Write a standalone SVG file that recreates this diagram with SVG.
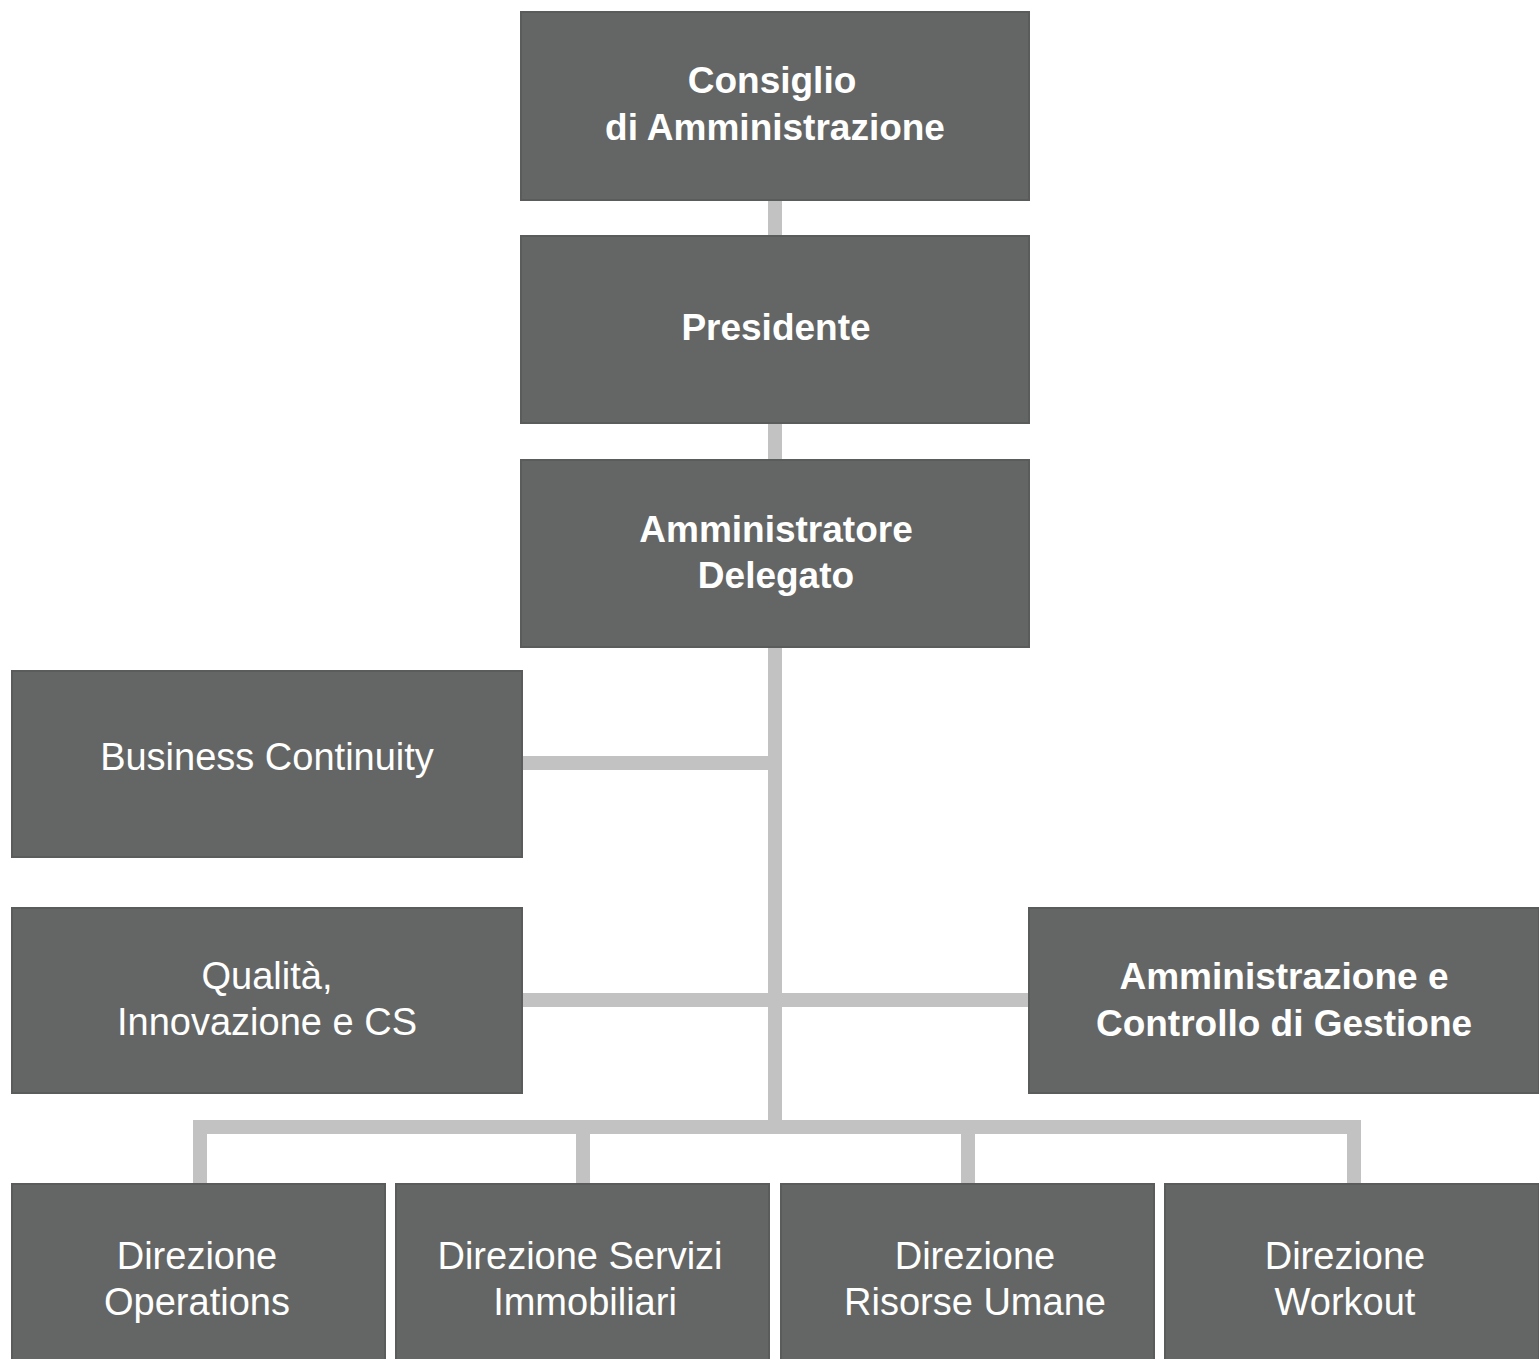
<svg xmlns="http://www.w3.org/2000/svg" width="1539" height="1359" viewBox="0 0 1539 1359">
<style>
.box{fill:#646665;stroke:#5a5c5b;stroke-width:2}
.t{font-family:"Liberation Sans",Arial,sans-serif;font-size:38px;fill:#ffffff;text-anchor:middle}
.b{font-weight:bold;font-size:37px}
.c{stroke:#c2c2c2;stroke-width:14;fill:none}
</style>
<rect width="1539" height="1359" fill="#ffffff"/>
<g id="connectors">
<line class="c" x1="775" y1="200" x2="775" y2="235"/>
<line class="c" x1="775" y1="423" x2="775" y2="459"/>
<line class="c" x1="775" y1="647" x2="775" y2="1127"/>
<line class="c" x1="523" y1="763" x2="775" y2="763"/>
<line class="c" x1="523" y1="1000" x2="1028" y2="1000"/>
<polyline class="c" points="200,1183 200,1127 1354,1127 1354,1183"/>
<line class="c" x1="583" y1="1127" x2="583" y2="1183"/>
<line class="c" x1="968" y1="1127" x2="968" y2="1183"/>
</g>
<g id="consiglio">
<rect class="box" x="521" y="12" width="508" height="188"/>
<text class="t b" x="772" y="93">Consiglio</text>
<text class="t b" x="775" y="140">di Amministrazione</text>
</g>
<g id="presidente">
<rect class="box" x="521" y="236" width="508" height="187"/>
<text class="t b" x="776" y="340">Presidente</text>
</g>
<g id="amministratore-delegato">
<rect class="box" x="521" y="460" width="508" height="187"/>
<text class="t b" x="776" y="542">Amministratore</text>
<text class="t b" x="776" y="588">Delegato</text>
</g>
<g id="business-continuity">
<rect class="box" x="12" y="671" width="510" height="186"/>
<text class="t" x="267" y="770">Business Continuity</text>
</g>
<g id="qualita">
<rect class="box" x="12" y="908" width="510" height="185"/>
<text class="t" x="267" y="989">Qualità,</text>
<text class="t" x="267" y="1035">Innovazione e CS</text>
</g>
<g id="amministrazione-controllo">
<rect class="box" x="1029" y="908" width="510" height="185"/>
<text class="t b" x="1284" y="989">Amministrazione e</text>
<text class="t b" x="1284" y="1036">Controllo di Gestione</text>
</g>
<g id="direzione-operations">
<rect class="box" x="12" y="1184" width="373" height="176"/>
<text class="t" x="197" y="1269">Direzione</text>
<text class="t" x="197" y="1315">Operations</text>
</g>
<g id="direzione-servizi-immobiliari">
<rect class="box" x="396" y="1184" width="373" height="176"/>
<text class="t" x="580" y="1269">Direzione Servizi</text>
<text class="t" x="585" y="1315">Immobiliari</text>
</g>
<g id="direzione-risorse-umane">
<rect class="box" x="781" y="1184" width="373" height="176"/>
<text class="t" x="975" y="1269">Direzione</text>
<text class="t" x="975" y="1315">Risorse Umane</text>
</g>
<g id="direzione-workout">
<rect class="box" x="1165" y="1184" width="374" height="176"/>
<text class="t" x="1345" y="1269">Direzione</text>
<text class="t" x="1345" y="1315">Workout</text>
</g>
</svg>
